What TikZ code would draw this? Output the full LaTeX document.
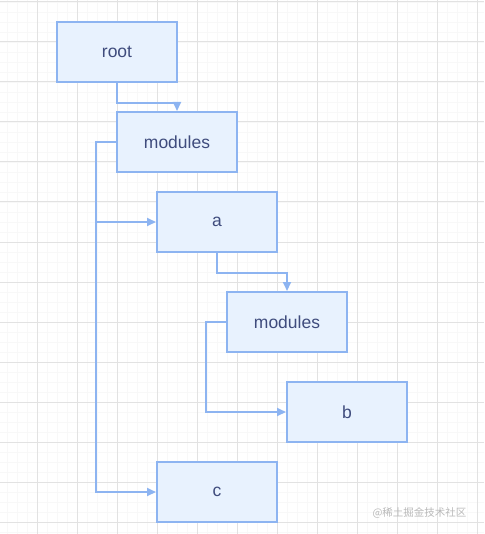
\documentclass[tikz,border=0pt]{standalone}
\usepackage{fontspec}
\setmainfont{Liberation Sans}
\newfontfamily\cjk{Noto Sans CJK SC}
\usepackage{tikz}
\usetikzlibrary{arrows.meta, positioning}
\definecolor{boxline}{HTML}{8DB4F1}
\definecolor{boxfill}{HTML}{E8F2FE}
\definecolor{boxtext}{HTML}{3F4C7D}
\definecolor{gridmajor}{HTML}{E2E2E2}
\definecolor{gridminor}{HTML}{F8F8F8}

\begin{document}
\begin{tikzpicture}[
  x=1pt, y=-1pt,
  folder/.style={rectangle, draw=boxline, fill=boxfill, line width=2pt,
                 minimum width=120pt, minimum height=60pt,
                 text=boxtext, font=\fontsize{17.5}{20}\selectfont},
  line/.style={-{Triangle[length=9pt, width=8pt]}, line width=2pt, draw=boxline, color=boxline},
  watermark/.style={text=gray!55, font=\cjk\fontsize{10.5}{12}\selectfont}
]
  \useasboundingbox (0,0) rectangle (484,534);

  % background grid
  \foreach \x in {7,17,...,484} \draw[gridminor, line width=0.5pt] (\x,0) -- (\x,534);
  \foreach \y in {2,12,...,534} \draw[gridminor, line width=0.5pt] (0,\y) -- (484,\y);
  \foreach \x in {37,77,...,484} \draw[gridmajor, line width=1pt] (\x,0) -- (\x,534);
  \foreach \y in {2,42,...,534} \draw[gridmajor, line width=1pt] (0,\y) -- (484,\y);

  \node[folder] (root)     at (117,52)  {root};
  \node[folder] (modules1) at (177,142) {modules};
  \node[folder] (a)        at (217,222) {a};
  \node[folder] (modules2) at (287,322) {modules};
  \node[folder] (b)        at (347,412) {b};
  \node[folder] (c)        at (217,492) {c};

  \draw[line] (root.south) -- ++(0,20) -| (modules1.north);
  \draw[line] (modules1.west) -- ++(-20,0) |- (a.west);
  \draw[line] (modules1.west) -- ++(-20,0) |- (c.west);
  \draw[line] (a.south) -- ++(0,20) -| (modules2.north);
  \draw[line] (modules2.west) -- ++(-20,0) |- (b.west);

  \node[watermark, anchor=east] (credit) at (470,513) {@稀土掘金技术社区};
\end{tikzpicture}
\end{document}
